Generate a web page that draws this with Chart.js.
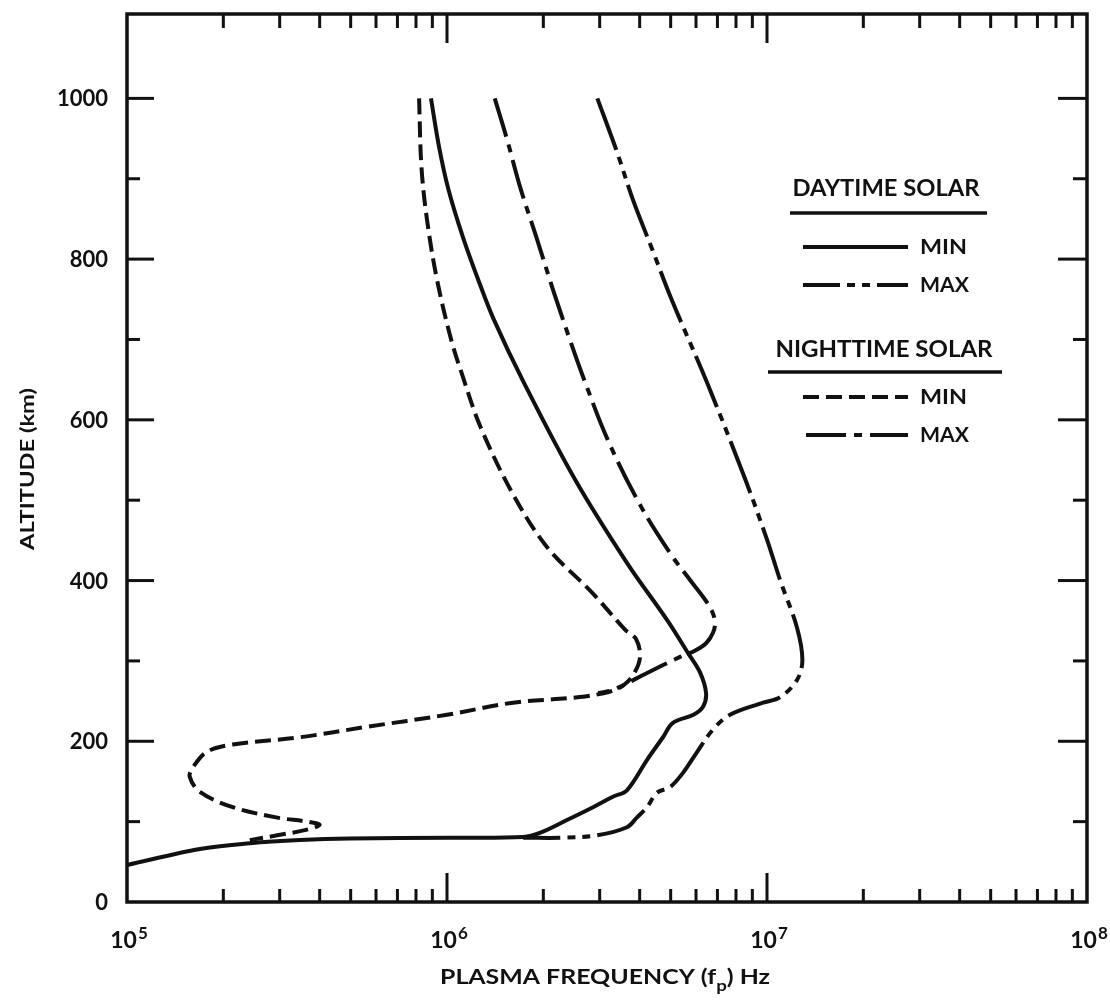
<!DOCTYPE html>
<html>
<head>
<meta charset="utf-8">
<script src="https://cdn.jsdelivr.net/npm/chart.js@4.4.1/dist/chart.umd.min.js"></script>
<style>
html,body{margin:0;padding:0;background:#fff;}
canvas{display:block;}
</style>
</head>
<body>
<canvas id="c" width="1110" height="1002"></canvas>
<script>
// ---------------- DATA ----------------
// Daytime, solar minimum (solid)
const dayMinFreq = [8.91e5, 9.44e5, 1.01e6, 1.12e6, 1.25e6, 1.40e6, 1.74e6, 2.51e6, 3.65e6, 4.87e6, 5.66e6, 6.17e6, 6.45e6, 6.31e6, 5.89e6, 5.08e6, 4.73e6, 4.22e6, 3.65e6, 3.30e6, 2.86e6, 2.37e6, 1.95e6, 1.73e6, 1.02e6, 4.97e5, 3.47e5, 2.42e5, 1.69e5, 1.0e5];
const dayMinAlt  = [1000, 940, 887, 828, 775, 725, 646, 526, 422, 351, 310, 286, 260, 243, 233, 223, 205, 177, 139, 131, 118, 102, 86, 81, 80, 79, 77, 73, 66, 46];

// Daytime, solar maximum (long dash, two short dashes)
const dayMaxFreq = [2.95e6, 3.4e6, 3.81e6, 4.38e6, 5.03e6, 6.5e6, 8.55e6, 1.0e7, 1.1e7, 1.24e7, 1.29e7, 1.24e7, 1.10e7, 9.72e6, 7.66e6, 6.76e6, 6.03e6, 5.47e6, 4.98e6, 4.53e6, 4.22e6, 3.92e6, 3.65e6, 2.95e6, 2.30e6, 1.73e6];
const dayMaxAlt  = [1000, 933, 874, 812, 750, 646, 526, 451, 400, 342, 301, 276, 255, 248, 233, 214, 186, 161, 143, 136, 118, 105, 93, 83, 80, 80];

// Nighttime, solar minimum (dashed)
const nightMinFreq = [8.18e5, 8.32e5, 8.66e5, 9.3e5, 1.03e6, 1.12e6, 1.27e6, 1.60e6, 2.05e6, 2.84e6, 3.6e6, 3.9e6, 4.01e6, 3.85e6, 3.57e6, 3.24e6, 2.6e6, 1.61e6, 1.0e6, 5.62e5, 3.47e5, 2.14e5, 1.78e5, 1.61e5, 1.57e5, 1.69e5, 2.14e5, 2.95e5, 3.65e5, 4.0e5, 3.65e5, 2.95e5, 2.42e5];
const nightMinAlt  = [1000, 915, 849, 775, 700, 654, 592, 509, 442, 385, 339, 327, 305, 285, 270, 262, 255, 248, 233, 218, 205, 196, 187, 168, 156, 137, 118, 105, 100, 96, 90, 83, 77];

// Nighttime, solar maximum (long dash, one short dash)
const nightMaxFreq = [1.41e6, 1.54e6, 1.70e6, 1.90e6, 2.16e6, 2.42e6, 2.66e6, 3.18e6, 4.04e6, 4.98e6, 5.74e6, 6.36e6, 6.73e6, 6.88e6, 6.78e6, 6.45e6, 5.91e6, 5.35e6, 4.22e6, 3.30e6, 2.97e6];
const nightMaxAlt  = [1000, 949, 887, 828, 758, 700, 654, 575, 492, 434, 401, 378, 362, 348, 335, 322, 312, 305, 285, 264, 260];

// Axis ticks and labels
const altMajorTicks = [200, 400, 600, 800, 1000];
const altMinorTicks = [100, 300, 500, 700, 900];
const altTickLabels = ['0', '200', '400', '600', '800', '1000'];
const freqDecades   = [1e5, 1e6, 1e7, 1e8];
const freqExponents = ['5', '6', '7', '8'];

const legendGroups = ['DAYTIME SOLAR', 'NIGHTTIME SOLAR'];
const legendItems  = ['MIN', 'MAX'];
const xTitle = ['PLASMA FREQUENCY (f', 'p', ') Hz'];
const yTitle = 'ALTITUDE (km)';

// ---------------- STYLE ----------------
const INK = '#111';
const FONT = 'Lato, "Open Sans", "DejaVu Sans", sans-serif';
const DASH = {
  dayMin: [],
  dayMax: [55, 7, 8, 7, 8, 7],
  nightMin: [16, 7],
  nightMax: [40, 8, 8, 8]
};

function pts(fx, ay) { return fx.map((f, i) => ({ x: f, y: ay[i] })); }

function ds(label, fx, ay, dash) {
  return {
    label, data: pts(fx, ay), showLine: true, borderColor: INK, borderWidth: 4,
    borderDash: dash, pointRadius: 0, tension: 0.35, fill: false,
    borderCapStyle: 'butt', borderJoinStyle: 'round'
  };
}

function font(size, weight) { return (weight || 'bold') + ' ' + size + 'px ' + FONT; }

// draw text fitted to a target width (real text, horizontally scaled)
function fitText(ctx, str, x, y, size, width, align) {
  ctx.save();
  ctx.font = font(size);
  const w = ctx.measureText(str).width;
  const s = width ? width / w : 1;
  let left = x;
  if (align === 'center') left = x - (w * s) / 2;
  else if (align === 'right') left = x - w * s;
  ctx.translate(left, y);
  ctx.scale(s, 1);
  ctx.textAlign = 'left';
  ctx.textBaseline = 'middle';
  ctx.fillText(str, 0, 0);
  ctx.restore();
}

const axesPlugin = {
  id: 'axesPlugin',
  afterDatasetsDraw(chart) {
    const { ctx, chartArea: a, scales: { x, y } } = chart;
    ctx.save();
    ctx.fillStyle = INK;
    ctx.strokeStyle = INK;

    // frame
    ctx.lineWidth = 3.5;
    ctx.lineJoin = 'miter';
    ctx.strokeRect(a.left, a.top, a.right - a.left, a.bottom - a.top);

    const seg = (x1, y1, x2, y2) => { ctx.beginPath(); ctx.moveTo(x1, y1); ctx.lineTo(x2, y2); ctx.stroke(); };
    ctx.lineWidth = 3;

    // altitude ticks (left and right, inward)
    altMajorTicks.forEach(v => { const py = y.getPixelForValue(v); seg(a.left, py, a.left + 27, py); seg(a.right, py, a.right - 29, py); });
    altMinorTicks.forEach(v => { const py = y.getPixelForValue(v); seg(a.left, py, a.left + 13, py); seg(a.right, py, a.right - 14, py); });

    // frequency ticks (bottom and top, inward)
    freqDecades.forEach((d, i) => {
      if (i > 0 && i < freqDecades.length - 1) {
        const px = x.getPixelForValue(d);
        seg(px, a.bottom, px, a.bottom - 29);
        seg(px, a.top, px, a.top + 29);
      }
      if (i < freqDecades.length - 1) {
        for (let m = 2; m <= 9; m++) {
          const px = x.getPixelForValue(m * d);
          seg(px, a.bottom, px, a.bottom - 13);
          seg(px, a.top, px, a.top + 14);
        }
      }
    });

    // altitude labels
    ctx.font = font(22);
    ctx.textAlign = 'right';
    ctx.textBaseline = 'middle';
    [0].concat(altMajorTicks).forEach((v, i) => {
      ctx.fillText(altTickLabels[i], 108, y.getPixelForValue(v) + 1);
    });

    // frequency labels 10^n
    freqDecades.forEach((d, i) => {
      const px = x.getPixelForValue(d);
      ctx.font = font(23);
      const wb = ctx.measureText('10').width;
      ctx.font = font(17);
      const ws = ctx.measureText(freqExponents[i]).width;
      const left = px + 2 - (wb + ws + 1) / 2;
      ctx.textAlign = 'left';
      ctx.textBaseline = 'alphabetic';
      ctx.font = font(23);
      ctx.fillText('10', left, 948);
      ctx.font = font(17);
      ctx.fillText(freqExponents[i], left + wb + 1, 939);
    });

    // x title with subscript
    {
      ctx.font = font(20);
      const w1 = ctx.measureText(xTitle[0]).width;
      const w3 = ctx.measureText(xTitle[2]).width;
      ctx.font = font(15);
      const w2 = ctx.measureText(xTitle[1]).width;
      const total = w1 + w2 + w3;
      const target = 330;
      const s = target / total;
      ctx.save();
      ctx.translate(440, 984);
      ctx.scale(s, 1);
      ctx.textAlign = 'left';
      ctx.textBaseline = 'alphabetic';
      ctx.font = font(20);
      ctx.fillText(xTitle[0], 0, 0);
      ctx.font = font(15);
      ctx.fillText(xTitle[1], w1, 7);
      ctx.font = font(20);
      ctx.fillText(xTitle[2], w1 + w2, 0);
      ctx.restore();
    }

    // y title (rotated)
    ctx.save();
    ctx.translate(28, 469);
    ctx.rotate(-Math.PI / 2);
    fitText(ctx, yTitle, 0, 0, 19, 162, 'center');
    ctx.restore();

    // legend
    const legend = [
      { head: legendGroups[0], hx: 886, hy: 189, hw: 187, ux1: 790, ux2: 987, uy: 213,
        rows: [{ y: 247, dash: DASH.dayMin, off: 0 }, { y: 285, dash: DASH.dayMax, off: 18 }] },
      { head: legendGroups[1], hx: 884, hy: 350, hw: 217, ux1: 768, ux2: 1002, uy: 372,
        rows: [{ y: 397, dash: DASH.nightMin, off: 0 }, { y: 435, dash: DASH.nightMax, off: -3 }] }
    ];
    legend.forEach(g => {
      fitText(ctx, g.head, g.hx, g.hy, 22, g.hw, 'center');
      ctx.lineWidth = 3.5;
      ctx.setLineDash([]);
      seg(g.ux1, g.uy, g.ux2, g.uy);
      g.rows.forEach((r, k) => {
        ctx.lineWidth = 4;
        ctx.setLineDash(r.dash);
        ctx.lineDashOffset = r.off;
        seg(803, r.y, 908, r.y);
        ctx.setLineDash([]);
        ctx.lineDashOffset = 0;
        fitText(ctx, legendItems[k], 920, r.y, 21, k === 0 ? 47 : 49, 'left');
      });
    });

    ctx.restore();
  }
};

new Chart(document.getElementById('c'), {
  type: 'scatter',
  data: {
    datasets: [
      ds('Daytime solar min', dayMinFreq, dayMinAlt, DASH.dayMin),
      ds('Daytime solar max', dayMaxFreq, dayMaxAlt, DASH.dayMax),
      ds('Nighttime solar min', nightMinFreq, nightMinAlt, DASH.nightMin),
      ds('Nighttime solar max', nightMaxFreq, nightMaxAlt, DASH.nightMax)
    ]
  },
  options: {
    responsive: false,
    animation: false,
    devicePixelRatio: 1,
    layout: { padding: { left: 127, right: 23, top: 14, bottom: 100 } },
    scales: {
      x: { type: 'logarithmic', min: 1e5, max: 1e8, display: false },
      y: { type: 'linear', min: 0, max: 1105, display: false }
    },
    plugins: { legend: { display: false }, tooltip: { enabled: false } }
  },
  plugins: [axesPlugin]
});
</script>
</body>
</html>
